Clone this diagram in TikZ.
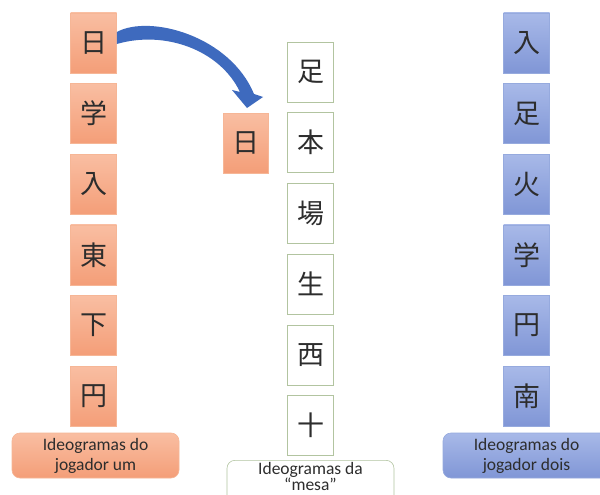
\documentclass[tikz,border=0pt]{standalone}
\usepackage{fontspec}
\setmainfont{Carlito}
\newfontfamily\jp{Noto Sans CJK JP}
\definecolor{ortop}{RGB}{249,190,162}
\definecolor{orbot}{RGB}{244,158,120}
\definecolor{orline}{RGB}{246,182,150}
\definecolor{bltop}{RGB}{168,185,232}
\definecolor{blbot}{RGB}{128,150,214}
\definecolor{blline}{RGB}{150,170,222}
\definecolor{grline}{RGB}{178,196,160}
\definecolor{arrowblue}{RGB}{62,106,190}
\definecolor{ink}{RGB}{45,45,45}
\tikzset{
  kanji/.style={minimum width=46pt, minimum height=60pt, inner sep=0pt,
    font=\jp\fontsize{27}{27}\selectfont, text=ink},
  orbox/.style={kanji, top color=ortop, bottom color=orbot, draw=orline, line width=0.6pt},
  blbox/.style={kanji, top color=bltop, bottom color=blbot, draw=blline, line width=0.6pt},
  whbox/.style={kanji, fill=white, draw=grline, line width=0.6pt},
  lab/.style={rounded corners=8pt, minimum height=45pt, inner sep=0pt, align=center,
    font=\fontsize{17.5}{20}\selectfont, text=ink, line width=0.6pt},
  labtxt/.style={inner sep=0pt, anchor=base, font=\fontsize{17.5}{20}\selectfont, text=ink},
}
\begin{document}
\begin{tikzpicture}[x=1pt,y=-1pt]
\clip (0,0) rectangle (600,495);
\fill[white] (0,0) rectangle (600,495);
% left column
\foreach \k [count=\i from 0] in {日,学,入,東,下,円}{
  \node[orbox] (l\i) at (93.5,{43+70.6*\i}) {\k};
}
% right column
\foreach \k [count=\i from 0] in {入,足,火,学,円,南}{
  \node[blbox] (r\i) at (526.5,{43+70.6*\i}) {\k};
}
% middle column
\foreach \k [count=\i from 0] in {足,本,場,生,西,十}{
  \node[whbox] (m\i) at (310.5,{72+70.7*\i}) {\k};
}
% moved tile
\node[orbox, minimum width=45pt] (mv) at (245.5,143) {日};
% labels
\node[lab, minimum width=167pt, top color=ortop, bottom color=orbot, draw=orline] (labl) at (95.5,455.5) {Ideogramas do\\jogador um};
\node[lab, minimum width=167pt, top color=bltop, bottom color=blbot, draw=blline] (labr) at (526.5,455.5) {Ideogramas do\\jogador dois};
\node[lab, minimum width=167pt, minimum height=50pt, fill=white, draw=grline, anchor=north] (labm) at (310.5,460) {};
\node[labtxt] (labm1) at (310.5,474) {Ideogramas da};
\node[labtxt] (labm2) at (310.5,490) {“mesa”};
% curved block arrow
\fill[arrowblue] (l0.east |- 0,32) .. controls (150,14) and (230,36) .. (254,94)
  -- (263,97) -- (247,108) -- (232,90) -- (240,92)
  .. controls (220,50) and (165,30) .. (l0.east |- 0,44) -- cycle;
\end{tikzpicture}
\end{document}
